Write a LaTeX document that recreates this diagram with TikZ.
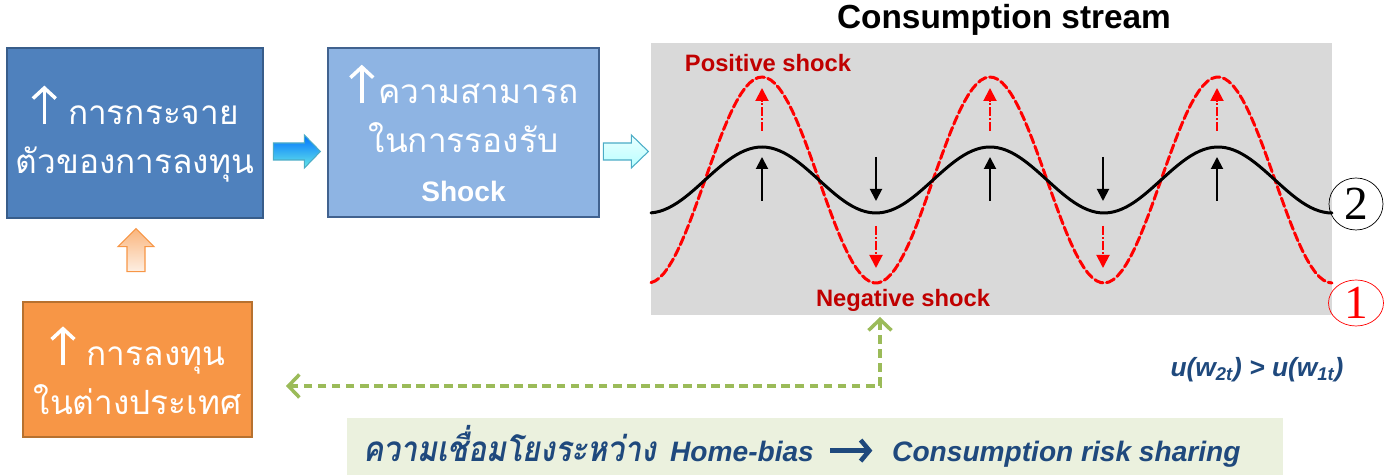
\documentclass[tikz,border=0pt]{standalone}
\usepackage{fontspec}
\setmainfont{Liberation Sans}
\newfontfamily\thaifont[Script=Thai]{Loma}
\newfontfamily\numfont{Liberation Serif}
\usetikzlibrary{arrows.meta, positioning, shapes.geometric, calc}
\definecolor{cdeep}{HTML}{4F81BD}
\definecolor{cdeepedge}{HTML}{385D8A}
\definecolor{clight}{HTML}{8EB4E3}
\definecolor{clightedge}{HTML}{41628F}
\definecolor{corange}{HTML}{F79646}
\definecolor{corangeedge}{HTML}{B7712F}
\definecolor{cgrey}{HTML}{D9D9D9}
\definecolor{cshock}{HTML}{C00000}
\definecolor{cnavy}{HTML}{1F497D}
\definecolor{cgreen}{HTML}{9BBB59}
\definecolor{cpale}{HTML}{EBF1DE}
\definecolor{ccyan}{HTML}{4BACC6}
% rising arrow in the boxes, long arrow in the banner
\newcommand\incr{\tikz[baseline=0pt, x=1pt, y=1pt]
  \draw[white, line width=2pt, -{Straight Barb[length=6pt,width=13pt]}] (0,0) -- (0,22);}
\newcommand\linkarrow{\tikz[baseline=0pt, x=1pt, y=1pt]
  \draw[cnavy, line width=2.6pt, -{Straight Barb[length=5pt,width=12pt]}] (0,6.5) -- (24,6.5);}
\tikzset{
  box/.style={draw=#1, line width=1.6pt, align=center, text=white, inner sep=0pt,
    font=\thaifont\fontsize{19pt}{28pt}\selectfont},
  blockarrow/.style={draw=#1, line width=0.6pt, line join=miter},
  label/.style={font=\bfseries\fontsize{13.5pt}{16pt}\selectfont, text=cshock},
  cons/.style={line width=1.7pt, line cap=round},
  blackarr/.style={-{Triangle[length=2.4mm,width=2.4mm]}, line width=1.1pt},
  redarr/.style={-{Triangle[length=2.6mm,width=2.6mm]}, red, line width=1.1pt,
    dash pattern=on 5pt off 1.2pt on 1.2pt off 1.2pt},
  tag/.style={ellipse, draw=#1, line width=0.4pt, inner sep=0pt, text=#1,
    font=\numfont\fontsize{27pt}{30pt}\selectfont},
  greenlink/.style={{Straight Barb[length=2.2mm,width=4.6mm]}-{Straight Barb[length=2.2mm,width=4.6mm]},
    draw=cgreen, line width=2pt, dash pattern=on 5pt off 3pt},
}

\begin{document}
\begin{tikzpicture}[x=0.02cm, y=-0.02cm]
  \useasboundingbox (0,0) rectangle (1394,475);
  % left boxes
  \node[box=cdeepedge, fill=cdeep, minimum width=5.12cm, minimum height=3.4cm] (spread) at (135,133)
    {\incr\hspace{6pt}การกระจาย\\ตัวของการลงทุน};
  \node[box=clightedge, fill=clight, minimum width=5.42cm, minimum height=3.38cm] (absorb) at (463.5,132.5)
    {\incr\hspace{2pt}ความสามารถ\\ในการรองรับ\\{\rmfamily\bfseries\fontsize{16pt}{28pt}\selectfont Shock}};
  \node[box=corangeedge, fill=corange, minimum width=4.58cm, minimum height=2.7cm] (abroad) at (137.5,369.5)
    {\incr\hspace{6pt}การลงทุน\\ในต่างประเทศ};
  % block arrows
  \draw[blockarrow=ccyan, top color=blue!55!cyan, bottom color=cyan!70!teal!60]
    ([shift={(9,10)}]spread.east) -- ++(31,0) -- ++(0,-8) -- ++(16,16.5) -- ++(-16,16.5)
    -- ++(0,-8) -- ++(-31,0) -- cycle;
  \draw[blockarrow=ccyan, top color=cyan!8, bottom color=cyan!28]
    ([shift={(3,10.5)}]absorb.east) -- ++(28,0) -- ++(0,-8) -- ++(17,16.5) -- ++(-17,16.5)
    -- ++(0,-8) -- ++(-28,0) -- cycle;
  \draw[blockarrow=corange, top color=corange!70, bottom color=corange!15]
    ([shift={(-10.5,-29)}]abroad.north) -- ++(0,-25) -- ++(-9,0) -- ++(18,-18) -- ++(18,18)
    -- ++(-9,0) -- ++(0,25) -- cycle;
  % consumption stream
  \node[font=\bfseries\fontsize{19pt}{22pt}\selectfont] (title) at (1004,20) {Consumption stream};
  \node[fill=cgrey, minimum width=13.62cm, minimum height=5.44cm, inner sep=0pt] (plotbg) at (991.5,179) {};
  \draw[cons, red, dash pattern=on 5pt off 2pt]
    plot[domain=651:1332, samples=160] (\x, {180-103*cos((\x-762)/228*360)});
  \draw[cons] plot[domain=651:1332, samples=160] (\x, {180-33*cos((\x-762)/228*360)});
  \foreach \p in {762,990,1217} {
    \draw[blackarr] (\p,201) -- (\p,157);
    \draw[redarr] (\p,131) -- (\p,88);
  }
  \foreach \t in {876,1103} {
    \draw[blackarr] (\t,157) -- (\t,201);
    \draw[redarr] (\t,226) -- (\t,268);
  }
  \node[label] (pos) at (768,63) {Positive shock};
  \node[label] (neg) at (903,300) {Negative shock};
  \node[tag=black, minimum width=1.08cm, minimum height=1.04cm] (two) at (1356,204) {2};
  \node[tag=red, minimum width=1.1cm, minimum height=0.92cm] (one) at (1356,303) {1};
  \node[text=cnavy, font=\bfseries\itshape\fontsize{15pt}{18pt}\selectfont] (util) at (1257,370)
    {u(w\textsubscript{2t}) > u(w\textsubscript{1t})};
  % link back to foreign investment
  \coordinate (shockbase) at (880,317);
  \coordinate (backend) at (286,386);
  \draw[greenlink] (shockbase) |- (backend);
  % bottom banner
  \node[fill=cpale, minimum width=18.72cm, minimum height=1.14cm, inner sep=0pt] (banner) at (815,446.5) {};
  \node[anchor=base west, inner sep=0pt, text=cnavy, font=\bfseries\itshape\fontsize{16pt}{20pt}\selectfont] (link) at (363,462)
    {\scalebox{0.86}[1]{\thaifont\fontsize{20pt}{20pt}\selectfont ความเชื่อมโยงระหว่าง}\hspace{8pt}Home-bias\hspace{8pt}\linkarrow\hspace{10pt}Consumption risk sharing};
\end{tikzpicture}
\end{document}
